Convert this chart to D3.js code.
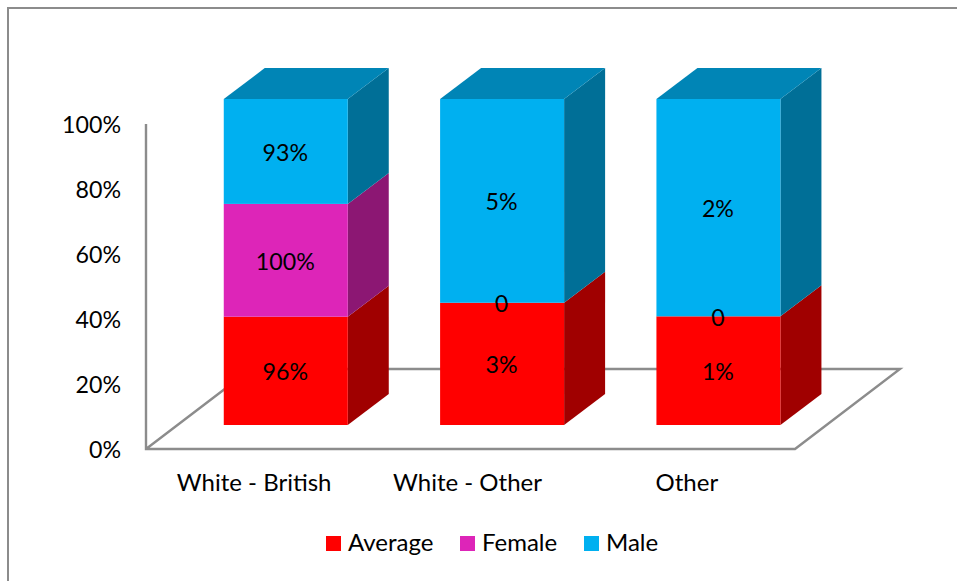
<!DOCTYPE html>
<html><head><meta charset="utf-8">
<script src="https://cdnjs.cloudflare.com/ajax/libs/d3/7.8.5/d3.min.js"></script>
<style>html,body{margin:0;padding:0;background:#fff}svg{display:block}text{font-family:"Lato",sans-serif;fill:#000}</style>
</head><body><svg id="c" width="957" height="581"></svg>
<script>
const categories=["White - British","White - Other","Other"];
const seriesNames=["Average","Female","Male"];
const average=[96,3,1];
const female=[100,0,0];
const male=[93,5,2];
const yTicks=[0,.2,.4,.6,.8,1];
const colors={Average:{front:"#ff0000",side:"#a00000",top:"#c00000"},Female:{front:"#dd25b8",side:"#8c1773",top:"#a81c8c"},Male:{front:"#00b0f0",side:"#006f97",top:"#0085b6"}};
const axisColor="#8c8c8c",fs=23.2,fsText=24;

const svg=d3.select("#c");
const rows=categories.map((c,i)=>({cat:c,Average:average[i],Female:female[i],Male:male[i]}));
const stacked=d3.stack().keys(seriesNames).offset(d3.stackOffsetExpand)(rows);

// frame
svg.append("path").attr("d","M8,581V8H957").attr("fill","none").attr("stroke",axisColor).attr("stroke-width",2);

// axis scales live on the chart's front wall / floor edge
const xAxisScale=d3.scaleBand().domain(categories).range([146,795]);
const yAxisScale=d3.scaleLinear().domain([0,1]).range([449,124]);
// bars sit further back on the floor
const depth={dx:41,dy:31},inset={x:31.6,y:24};
const yBar=d3.scaleLinear().domain([0,1]).range([425,99]);
const barW=124;
const xBar=c=>xAxisScale(c)+xAxisScale.bandwidth()/2+inset.x-barW/2;

// floor and wall
const fdx=105,fdy=80;
const floor=d3.path();
floor.moveTo(146,124);floor.lineTo(146,449);floor.lineTo(795,449);floor.lineTo(795+fdx,449-fdy);floor.lineTo(146+fdx,449-fdy);floor.lineTo(146,449);
svg.append("path").attr("d",floor.toString()).attr("fill","none").attr("stroke",axisColor).attr("stroke-width",2.4);

// y axis labels
const yAxis=d3.axisLeft(yAxisScale).tickValues(yTicks).tickFormat(d3.format(".0%")).tickSize(0).tickPadding(0);
const gy=svg.append("g").attr("transform","translate(121,0)").call(yAxis);
gy.select(".domain").remove();
gy.selectAll("text").attr("font-size",fs).attr("dy","0.35em");

// x axis labels
const xAxis=d3.axisBottom(xAxisScale).tickSize(0).tickPadding(0);
const gx=svg.append("g").attr("transform","translate(0,474)").call(xAxis);
gx.select(".domain").remove();
gx.selectAll("text").attr("font-size",fsText).attr("dy","0.71em").attr("y",0);
gx.selectAll("text").filter((d,i)=>i===1).attr("dx",-3);

// bars
const marks=svg.append("g");
const poly=p=>"M"+p.map(q=>q.join(",")).join("L")+"Z";
categories.forEach((c,i)=>{
  const x0=xBar(c),x1=x0+barW;
  stacked.forEach(s=>{
    const d=s[i],y0=yBar(d[0]),y1=yBar(d[1]),col=colors[s.key];
    if(y0-y1<0.01)return;
    marks.append("path").attr("d",poly([[x1,y0],[x1+depth.dx,y0-depth.dy],[x1+depth.dx,y1-depth.dy],[x1,y1]])).attr("fill",col.side);
    marks.append("rect").attr("x",x0).attr("y",y1).attr("width",barW).attr("height",y0-y1).attr("fill",col.front);
    if(d[1]===1) marks.append("path").attr("d",poly([[x0,y1],[x1,y1],[x1+depth.dx,y1-depth.dy],[x0+depth.dx,y1-depth.dy]])).attr("fill",col.top);
  });
});
// data labels
const fmt=v=>v===0?"0":v+"%";
categories.forEach((c,i)=>{
  stacked.forEach(s=>{
    const d=s[i];
    svg.append("text").attr("x",xBar(c)+barW/2-0.5).attr("y",(yBar(d[0])+yBar(d[1]))/2+1.5).attr("dy","0.35em")
      .attr("text-anchor","middle").attr("font-size",fs).text(fmt(rows[i][s.key]));
  });
});
// legend
const legendX=d3.scaleOrdinal().domain(seriesNames).range([326,460,584]);
const lg=svg.append("g").selectAll("g").data(seriesNames).join("g").attr("transform",d=>`translate(${legendX(d)},536)`);
lg.append("rect").attr("width",15).attr("height",15).attr("fill",d=>colors[d].front);
lg.append("text").attr("x",22).attr("y",15).attr("font-size",fsText).text(d=>d);
</script></body></html>
